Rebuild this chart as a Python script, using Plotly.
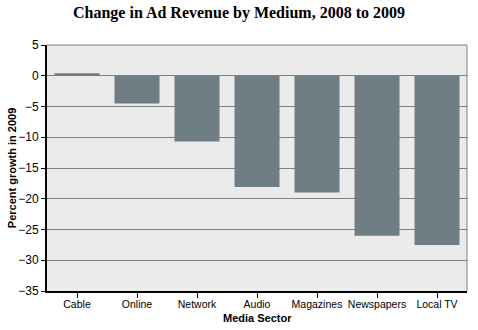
import plotly.graph_objects as go

categories = ["Cable", "Online", "Network", "Audio", "Magazines", "Newspapers", "Local TV"]
values = [0.4, -4.5, -10.7, -18.1, -19.0, -26.0, -27.5]
y_ticks = [5, 0, -5, -10, -15, -20, -25, -30, -35]

fig = go.Figure()
fig.add_trace(go.Bar(x=categories, y=values, marker=dict(color="#6E7E84", line=dict(width=0))))

fig.update_layout(
    width=478, height=330,
    margin=dict(l=47, r=11, t=45, b=39),
    paper_bgcolor="white",
    plot_bgcolor="#EBEBEB",
    bargap=0.25,
    showlegend=False,
    title=dict(text="<b>Change in Ad Revenue by Medium, 2008 to 2009</b>",
               x=0.5, xanchor="center", y=0.962, yanchor="middle",
               font=dict(family="Liberation Serif", size=16, color="black")),
    font=dict(family="Liberation Sans", size=11, color="black"),
    xaxis=dict(
        showline=True, linecolor="black", linewidth=2,
        ticks="outside", ticklen=5, tickcolor="black",
        showgrid=False, tickangle=0, automargin=False,
        ticklabelstandoff=-3,
        tickfont=dict(size=10.5),
    ),
    yaxis=dict(
        range=[-35, 5], tickvals=y_ticks, automargin=False,
        showline=True, linecolor="black", linewidth=2,
        ticks="outside", ticklen=4, tickcolor="black",
        showgrid=True, gridcolor="#808080", gridwidth=1,
        zeroline=False,
        tickfont=dict(size=12),
    ),
    annotations=[
        dict(text="<b>Media Sector</b>", xref="paper", yref="paper", x=0.5, y=-0.11,
             xanchor="center", yanchor="middle", showarrow=False, font=dict(size=11)),
        dict(text="<b>Percent growth in 2009</b>", xref="paper", yref="paper", x=-0.083, y=0.5,
             xanchor="center", yanchor="middle", textangle=-90, showarrow=False, font=dict(size=11)),
    ],
    shapes=[
        dict(type="line", xref="paper", yref="paper", x0=1, x1=1, y0=0, y1=1,
             line=dict(color="#808080", width=1)),
        dict(type="line", xref="paper", yref="paper", x0=0, x1=1, y0=1, y1=1,
             line=dict(color="#808080", width=1)),
    ],
)

fig.write_html("out.html")
